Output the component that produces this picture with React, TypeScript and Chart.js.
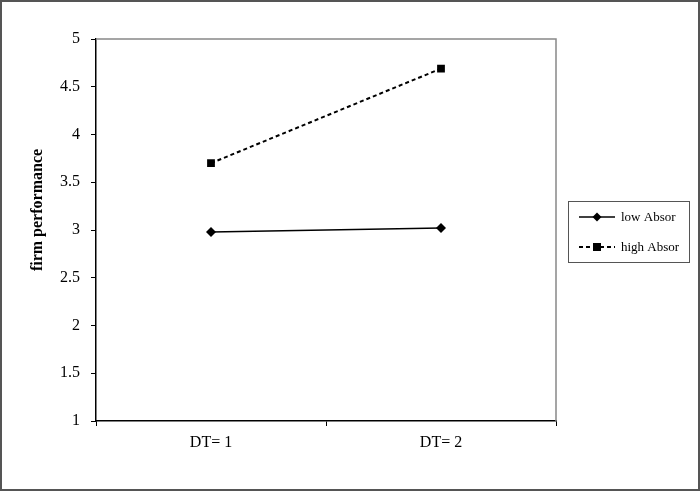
import React, { useEffect, useRef } from "react";
import { Chart, registerables } from "chart.js";

Chart.register(...registerables);

const categories = ["DT= 1", "DT= 2"];
const lowAbsor = [2.98, 3.02];
const highAbsor = [3.7, 4.69];
const seriesLabels = ["low Absor", "high Absor"];
const yTitle = "firm performance";
const yMin = 1;
const yMax = 5;
const yStep = 0.5;

const FONT = "'Liberation Serif', 'Times New Roman', serif";

const framePlugin = {
  id: "frame",
  beforeDraw(chart: any) {
    const { ctx, width, height } = chart;
    ctx.save();
    ctx.fillStyle = "#ffffff";
    ctx.fillRect(0, 0, width, height);
    ctx.restore();
  },
  afterDraw(chart: any) {
    const { ctx, chartArea, width, height } = chart;
    ctx.save();
    // outer border
    ctx.strokeStyle = "#555555";
    ctx.lineWidth = 2;
    ctx.strokeRect(1, 1, width - 2, height - 3);
    // plot area top/right border
    ctx.strokeStyle = "#888888";
    ctx.lineWidth = 1.5;
    ctx.beginPath();
    ctx.moveTo(chartArea.left, chartArea.top);
    ctx.lineTo(chartArea.right, chartArea.top);
    ctx.lineTo(chartArea.right, chartArea.bottom);
    ctx.stroke();
    // y title
    ctx.fillStyle = "#000";
    ctx.font = "bold 16px " + FONT;
    ctx.textAlign = "center";
    ctx.textBaseline = "middle";
    ctx.translate(38, 210);
    ctx.rotate(-Math.PI / 2);
    ctx.fillText(yTitle, 0, 0);
    ctx.restore();

    // legend
    ctx.save();
    const lx = chartArea.right + 12;
    const ly = 201;
    const lw = 121;
    const lh = 61;
    ctx.strokeStyle = "#555555";
    ctx.lineWidth = 1;
    ctx.strokeRect(lx + 0.5, ly + 0.5, lw, lh);
    chart.data.datasets.forEach((ds: any, i: number) => {
      const cy = ly + 16 + i * 30;
      ctx.strokeStyle = "#000";
      ctx.lineWidth = ds.borderWidth;
      ctx.setLineDash(ds.borderDash || []);
      ctx.beginPath();
      ctx.moveTo(lx + 11, cy);
      ctx.lineTo(lx + 47, cy);
      ctx.stroke();
      ctx.setLineDash([]);
      ctx.fillStyle = "#000";
      const mx = lx + 29;
      if (ds.pointStyle === "rectRot") {
        ctx.beginPath();
        ctx.moveTo(mx, cy - 4.5);
        ctx.lineTo(mx + 4.5, cy);
        ctx.lineTo(mx, cy + 4.5);
        ctx.lineTo(mx - 4.5, cy);
        ctx.closePath();
        ctx.fill();
      } else {
        ctx.fillRect(mx - 4, cy - 4, 8, 8);
      }
      ctx.font = "13px " + FONT;
      ctx.textAlign = "left";
      ctx.textBaseline = "middle";
      ctx.fillText(ds.label, lx + 53, cy + 1);
    });
    ctx.restore();
  },
};

export default function App() {
  const ref = useRef<HTMLCanvasElement>(null);
  useEffect(() => {
    if (!ref.current) return;
    const chart = new Chart(ref.current, {
      type: "line",
      data: {
        labels: categories,
        datasets: [
          {
            label: seriesLabels[0],
            data: lowAbsor,
            borderColor: "#000",
            backgroundColor: "#000",
            borderWidth: 1.5,
            pointStyle: "rectRot",
            pointRadius: 5,
            pointBorderWidth: 0,
            fill: false,
          },
          {
            label: seriesLabels[1],
            data: highAbsor,
            borderColor: "#000",
            backgroundColor: "#000",
            borderWidth: 2,
            borderDash: [4, 3],
            pointStyle: "rect",
            pointRadius: 5.5,
            pointBorderWidth: 0,
            fill: false,
          },
        ],
      },
      options: {
        animation: false,
        responsive: false,
        devicePixelRatio: 1,
        layout: { padding: { left: 0, top: 39, right: 144, bottom: 0 } },
        plugins: { legend: { display: false }, tooltip: { enabled: false } },
        scales: {
          x: {
            offset: true,
            border: { display: true, color: "#000", width: 1.5 },
            grid: {
              offset: true,
              drawOnChartArea: false,
              drawTicks: true,
              tickLength: 5,
              color: "#000",
            },
            ticks: { color: "#000", font: { family: FONT, size: 16 }, padding: 7 },
            afterFit(scale: any) {
              scale.height = 71;
            },
          },
          y: {
            min: yMin,
            max: yMax,
            border: { display: true, color: "#000", width: 1.5 },
            grid: {
              drawOnChartArea: false,
              drawTicks: true,
              tickLength: 5,
              color: "#000",
            },
            ticks: {
              stepSize: yStep,
              color: "#000",
              padding: 11,
              font: { family: FONT, size: 16 },
              callback: (v: any) => String(Number(v)),
            },
            afterFit(scale: any) {
              scale.width = 96;
            },
          },
        },
      },
      plugins: [framePlugin],
    });
    return () => chart.destroy();
  }, []);
  return (
    <div style={{ position: "absolute", left: 0, top: 0, width: 700, height: 492 }}>
      <canvas ref={ref} width={700} height={492} />
    </div>
  );
}
